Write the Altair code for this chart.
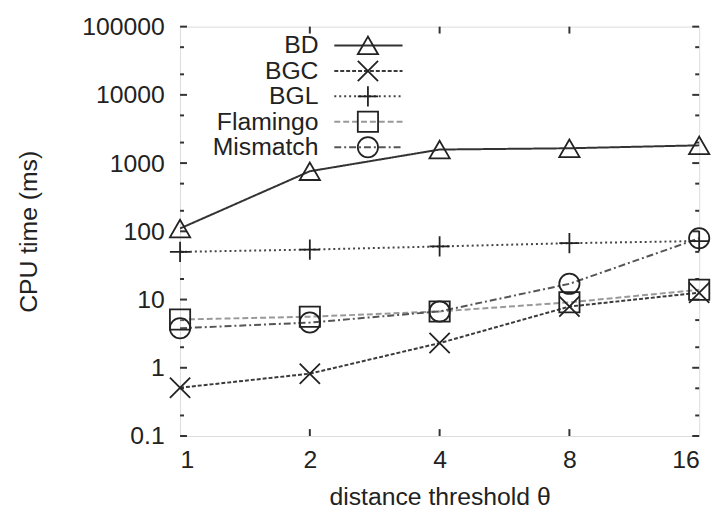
import altair as alt
import pandas as pd

thresholds = [1, 2, 4, 8, 16]
bd = [110, 760, 1580, 1650, 1820]
bgc = [0.51, 0.82, 2.3, 7.9, 12.6]
bgl = [50, 54, 60, 67, 72]
flamingo = [5.1, 5.6, 6.7, 9.1, 13.9]
mismatch = [3.8, 4.6, 6.7, 17, 79]

series_names = ["BD", "BGC", "BGL", "Flamingo", "Mismatch"]
y_major = [0.1, 1, 10, 100, 1000, 10000, 100000]
y_minor = [0.2, 0.5, 2, 5, 20, 50, 200, 500, 2000, 5000, 20000, 50000]
x_inner = [2, 4, 8]

FONT = "Liberation Sans"
FS = 25
W, H = 525, 414

rows = []
for name, vals in zip(series_names, [bd, bgc, bgl, flamingo, mismatch]):
    for t, v in zip(thresholds, vals):
        rows.append({"series": name, "theta": t, "cpu": v})
df = pd.DataFrame(rows)

colors = ["#333333", "#3a3a3a", "#444444", "#999999", "#555555"]
dashes = [[1, 0], [4, 2], [2, 3], [6, 3], [7, 3, 2, 3]]
shapes = ["triangle-up", "M-1,-1L1,1M-1,1L1,-1", "M-1,0L1,0M0,-1L0,1", "square", "circle"]
sizes = [420, 420, 440, 400, 350]

xscale = alt.Scale(type="log", base=2, domain=[1, 16], nice=False)
yscale = alt.Scale(type="log", domain=[0.1, 100000], nice=False)

x_axis = alt.Axis(values=thresholds, format="d", ticks=False, tickSize=0, domain=False, grid=False,
                  labelFont=FONT, labelFontSize=FS, labelColor="#222", labelPadding=12,
                  title="distance threshold θ", titleFont=FONT, titleFontSize=FS,
                  titleFontWeight="normal", titleColor="#222",
                  titleX=W / 2, titleY=69, titleBaseline="alphabetic", titleAlign="center")
y_axis = alt.Axis(values=y_major, format="~g", ticks=False, tickSize=0, domain=False, grid=False,
                  labelFont=FONT, labelFontSize=FS, labelColor="#222", labelPadding=16,
                  title="CPU time (ms)", titleFont=FONT, titleFontSize=FS,
                  titleFontWeight="normal", titleColor="#222", titleAngle=-90,
                  titleX=-153, titleY=H / 2, titleBaseline="middle", titleAlign="center")

color_enc = alt.Color("series:N", scale=alt.Scale(domain=series_names, range=colors), legend=None)
dash_enc = alt.StrokeDash("series:N", scale=alt.Scale(domain=series_names, range=dashes), legend=None)
shape_enc = alt.Shape("series:N", scale=alt.Scale(domain=series_names, range=shapes), legend=None)
size_enc = alt.Size("series:N", scale=alt.Scale(domain=series_names, range=sizes), legend=None)

base = alt.Chart(df)
lines = base.mark_line(strokeWidth=2).encode(
    x=alt.X("theta:Q", scale=xscale, axis=x_axis),
    y=alt.Y("cpu:Q", scale=yscale, axis=y_axis),
    color=color_enc, strokeDash=dash_enc, detail="series:N",
)
points = base.mark_point(filled=False, strokeWidth=1.8, opacity=1).encode(
    x=alt.X("theta:Q", scale=xscale, axis=x_axis),
    y=alt.Y("cpu:Q", scale=yscale, axis=y_axis),
    shape=shape_enc, size=size_enc, stroke=alt.value("#222"),
)

ymaj_df = pd.DataFrame({"cpu": y_major})
ymin_df = pd.DataFrame({"cpu": y_minor})
xin_df = pd.DataFrame({"theta": x_inner})

def ytick(data, x0, x1):
    return alt.Chart(data).mark_rule(strokeWidth=2, color="#333").encode(
        y=alt.Y("cpu:Q", scale=yscale, axis=y_axis), x=alt.value(x0), x2=alt.value(x1))

def xtick(data, y0, y1):
    return alt.Chart(data).mark_rule(strokeWidth=2, color="#333").encode(
        x=alt.X("theta:Q", scale=xscale, axis=x_axis), y=alt.value(y0), y2=alt.value(y1))

main = alt.layer(
    ytick(ymaj_df, 0, 7), ytick(ymaj_df, W - 7, W),
    ytick(ymin_df, 0, 4), ytick(ymin_df, W - 4, W),
    xtick(xin_df, H - 7, H), xtick(xin_df, 0, 7),
    lines, points,
)

leg_df = pd.DataFrame({"series": series_names})
leg_y = alt.Y("series:N", scale=alt.Scale(type="point", domain=series_names, range=[19, 122], padding=0), axis=None)
leg_base = alt.Chart(leg_df)
leg_rule = leg_base.mark_rule(strokeWidth=2).encode(
    x=alt.value(156), x2=alt.value(225), y=leg_y, color=color_enc, strokeDash=dash_enc)
leg_pts = leg_base.mark_point(filled=False, strokeWidth=1.8, opacity=1).encode(
    x=alt.value(190), y=leg_y, shape=shape_enc, size=size_enc, stroke=alt.value("#222"))
leg_text = leg_base.mark_text(align="right", baseline="middle", font=FONT, fontSize=FS, color="#222").encode(
    x=alt.value(140), y=leg_y, text="series:N")
legend = alt.layer(leg_rule, leg_pts, leg_text)

chart = alt.layer(main, legend).resolve_scale(y="independent").properties(
    width=W, height=H,
    autosize=alt.AutoSizeParams(type="none"),
    padding={"left": 174, "top": 16, "right": 16, "bottom": 74},
).configure_view(stroke="#333", strokeWidth=2).configure(background="white")

chart.save("out.html", embed_options={"renderer": "svg", "actions": False})
